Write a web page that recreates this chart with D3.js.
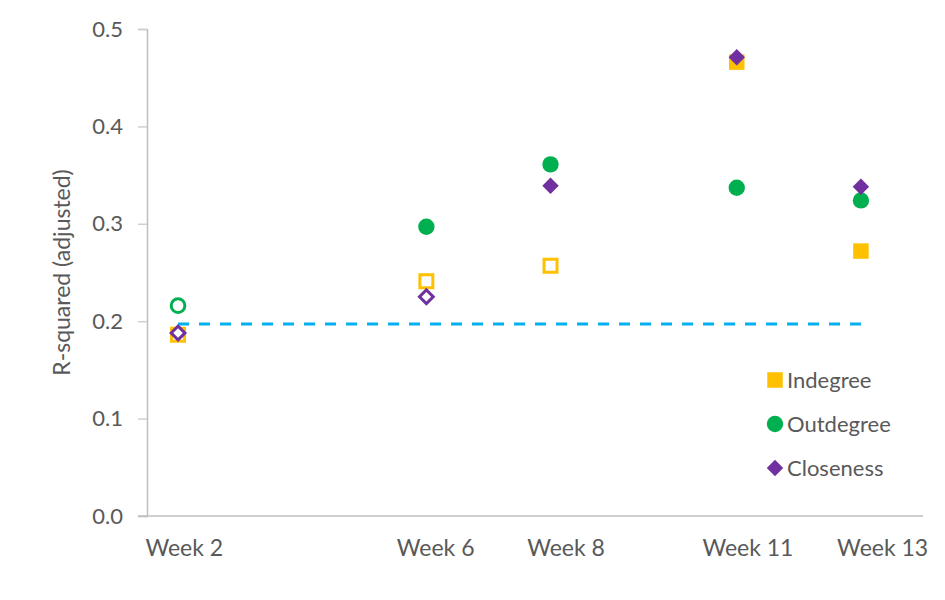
<!DOCTYPE html>
<html>
<head>
<meta charset="utf-8">
<script src="https://cdn.jsdelivr.net/npm/d3@7"></script>
<style>
  html, body { margin: 0; padding: 0; background: #fff; }
  text { font-family: Lato, "Open Sans", sans-serif; fill: #595959; }
</style>
</head>
<body>
<svg id="chart" width="945" height="600"></svg>
<script>
// ---- data ----
const weeks = [2, 6, 8, 11, 13];
const weekLabels = ["Week 2", "Week 6", "Week 8", "Week 11", "Week 13"];
const weekLabelPos = [2.1, 6.15, 8.25, 11.18, 13.35];
const seriesNames = ["Indegree", "Outdegree", "Closeness"];
const indegree = [0.186, 0.241, 0.257, 0.466, 0.272];
const outdegree = [0.216, 0.297, 0.361, 0.337, 0.324];
const closeness = [0.188, 0.225, 0.339, 0.471, 0.338];
// filled (significant) flags per point
const indegreeFilled = [false, false, false, true, true];
const outdegreeFilled = [false, true, true, true, true];
const closenessFilled = [false, false, true, true, true];
const baselineWeeks = [2, 13];
const baselineValue = 0.197;
const yTicks = [0, 0.1, 0.2, 0.3, 0.4, 0.5];
const yTitle = "R-squared (adjusted)";

const colors = { Indegree: "#FFC000", Outdegree: "#00B050", Closeness: "#7030A0" };
const shapes = { Indegree: d3.symbolSquare, Outdegree: d3.symbolCircle, Closeness: d3.symbolSquare };
const rotation = { Indegree: 0, Outdegree: 0, Closeness: 45 };
const markerSize = { Indegree: 240, Outdegree: 210, Closeness: 135 };

const svg = d3.select("#chart");
const x = d3.scaleLinear().domain([1.5, 14]).range([147, 923]);
const y = d3.scaleLinear().domain([0, 0.5]).range([516, 29]);

// y axis
const yAxis = svg.append("g").attr("transform", `translate(${x(1.5)},0)`)
  .call(d3.axisLeft(y).tickValues(yTicks).tickFormat(d3.format(".1f")).tickSize(9).tickPadding(15));
yAxis.select(".domain").attr("stroke", "#BFBFBF").attr("stroke-width", 1.5);
yAxis.selectAll(".tick line").attr("stroke", "#D0D0D0").attr("stroke-width", 1.5);
yAxis.selectAll(".tick text").attr("font-size", 22).attr("fill", "#595959")
  .attr("font-family", "Lato, 'Open Sans', sans-serif");

// x axis line (extends slightly left of the y axis)
svg.append("line")
  .attr("x1", x(1.5) - 9).attr("x2", x(14))
  .attr("y1", y(0)).attr("y2", y(0))
  .attr("stroke", "#BFBFBF").attr("stroke-width", 1.5);

// x labels
svg.append("g").selectAll("text").data(weekLabels).join("text")
  .attr("x", (d, i) => x(weekLabelPos[i]))
  .attr("y", 556)
  .attr("text-anchor", "middle")
  .attr("font-size", 23)
  .text(d => d);

// y title
svg.append("text")
  .attr("transform", `translate(70,${(y(0) + y(0.5)) / 2}) rotate(-90)`)
  .attr("text-anchor", "middle")
  .attr("font-size", 23)
  .text(yTitle);

// baseline dashed line
svg.append("line")
  .attr("x1", x(baselineWeeks[0])).attr("x2", x(baselineWeeks[1]))
  .attr("y1", y(baselineValue)).attr("y2", y(baselineValue))
  .attr("stroke", "#00B0F0").attr("stroke-width", 3)
  .attr("stroke-dasharray", "11,10");

// series
const seriesData = [
  { name: "Indegree", values: indegree, filled: indegreeFilled },
  { name: "Outdegree", values: outdegree, filled: outdegreeFilled },
  { name: "Closeness", values: closeness, filled: closenessFilled }
];

seriesData.forEach(s => {
  const sym = d3.symbol().type(shapes[s.name]);
  svg.append("g").selectAll("path").data(s.values).join("path")
    .attr("transform", (d, i) => `translate(${x(weeks[i])},${y(d)}) rotate(${rotation[s.name]})`)
    .attr("d", (d, i) => sym.size(s.filled[i] ? markerSize[s.name] : markerSize[s.name] * 0.7)())
    .attr("fill", (d, i) => s.filled[i] ? colors[s.name] : "#fff")
    .attr("stroke", colors[s.name])
    .attr("stroke-width", (d, i) => s.filled[i] ? 0 : 3);
});

// legend
const legend = svg.append("g");
const legendY = d3.scalePoint().domain(seriesNames).range([380, 468]);
seriesNames.forEach(n => {
  const g = legend.append("g").attr("transform", `translate(775,${legendY(n)})`);
  g.append("path").attr("d", d3.symbol().type(shapes[n]).size(markerSize[n])())
    .attr("transform", `rotate(${rotation[n]})`)
    .attr("fill", colors[n]);
  g.append("text").attr("x", 12).attr("y", 8).attr("font-size", 22).text(n);
});
</script>
</body>
</html>
